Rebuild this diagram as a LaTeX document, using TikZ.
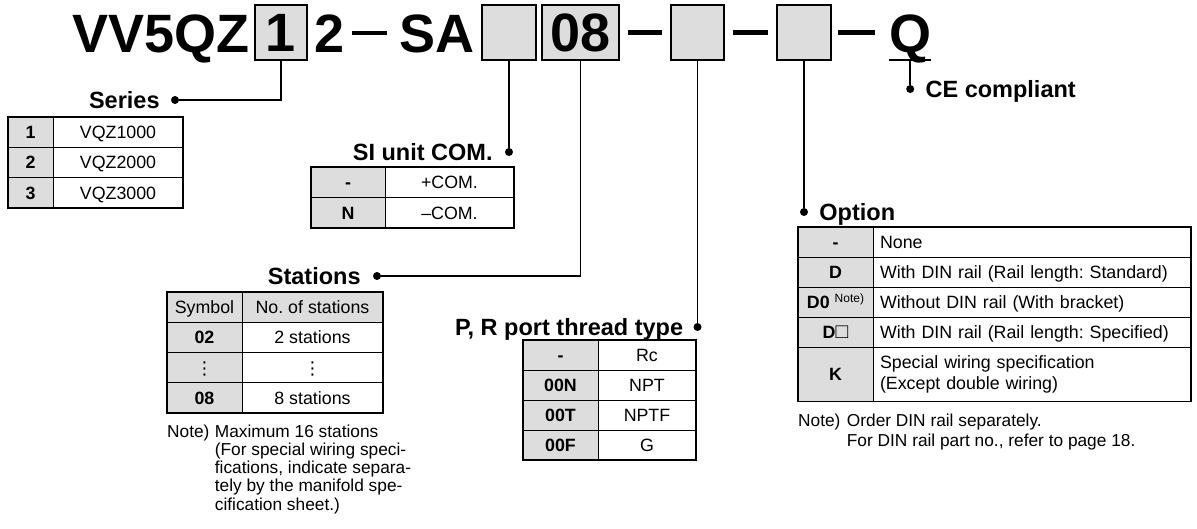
\documentclass[tikz,border=0pt]{standalone}
\usepackage{fontspec}
\setmainfont{Liberation Sans}
\newfontfamily\dejavu{DejaVu Sans}
\usetikzlibrary{positioning}
\definecolor{cGrey}{HTML}{DDDDDD}
\newcommand\codefont{\fontsize{54}{60}\selectfont\bfseries}
\newcommand\ttlfont{\fontsize{23.5}{26}\selectfont\bfseries}
\newcommand\tabfont{\fontsize{17.8}{21}\selectfont}
\newcommand\notefont{\fontsize{17.3}{18.3}\selectfont}
\frenchspacing

\begin{document}
\begin{tikzpicture}[
  x=1pt, y=-1pt,
  code/.style={font=\codefont, inner sep=0pt},
  slot/.style={draw, fill=cGrey, line width=1.5pt, minimum height=55pt,
               inner sep=0pt, font=\codefont},
  dsh/.style={line width=4.5pt, shorten <=8pt, shorten >=8pt},
  ln/.style={line width=1.6pt},
  dot/.style={circle, fill=black, inner sep=0pt, minimum size=8pt},
  ttl/.style={font=\ttlfont, inner sep=0pt},
  cell/.style={draw, line width=1pt, inner sep=0pt, outer sep=0pt, font=\tabfont},
  onel/.style={text height=12.8pt, text depth=0pt},
  keyc/.style={cell, onel, fill=cGrey, font=\tabfont\bfseries},
  hd/.style={cell, onel, fill=cGrey},
  valc/.style={cell, onel, fill=white},
  optv/.style={valc, minimum width=318pt, text width=304pt, inner xsep=7pt, align=left},
  optm/.style={cell, fill=white, minimum width=318pt, text width=304pt, inner xsep=7pt, align=left},
  tabframe/.style={line width=1.5pt},
  note/.style={font=\notefont, inner sep=0pt, align=left}]
\useasboundingbox (0,0) rectangle (1197,528);

% ================= model code =================
\node[code, anchor=base west] (pfx) at (72,52) {VV5QZ};
\node[slot, minimum width=52pt] (slot1) at (281,32.5) {1};
\node[code, anchor=base west] (two) at (314,52) {2};
\node[code, anchor=base west] (sa) at (399,52) {SA};
\node[slot, minimum width=54pt] (slotS) at (509,32.5) {};
\node[slot, minimum width=77pt] (slot08) at (580.5,32.5) {08};
\node[slot, minimum width=53pt] (slot2) at (697.5,32.5) {};
\node[slot, minimum width=54pt] (slot3) at (804,32.5) {};
\node[code, anchor=base west] (q) at (889,52) {Q};

\draw[dsh, shorten >=12pt] (two.east) -- (two.east -| sa.west);
\draw[dsh] (slot08.east) -- (slot2.west);
\draw[dsh] (slot2.east) -- (slot3.west);
\draw[dsh, shorten <=6pt, shorten >=14pt] (slot3.east) -- (slot3.east -| q.west);

% ---- leaders ----
\node[dot] (serdot) at (175,100) {};
\node[dot] (sidot) at (slotS.south |- 0,152) {};
\node[dot] (stadot) at (377,276) {};
\node[dot] (prdot) at (slot2.south |- 0,327) {};
\node[dot] (optdot) at (slot3.south |- 0,212) {};
\node[dot] (cedot) at (q.base |- 0,89) {};

\draw[ln] (slot1.south) |- (serdot);
\draw[ln] (slotS.south) -- (sidot);
\draw[ln] (slot08.south) |- (stadot);
\draw[ln] (slot2.south) -- (prdot);
\draw[ln] (slot3.south) -- (optdot);
\draw[ln] ([yshift=-8pt]q.base west) -- ([yshift=-8pt]q.base east);
\draw[ln] ([yshift=-8pt]q.base) -- (cedot);

% ---- titles ----
\node[ttl, left=11pt of serdot, anchor=base east, yshift=-8.2pt] (sertl) {Series};
\node[ttl, left=12pt of sidot, anchor=base east, yshift=-8.2pt] (situl) {SI unit COM.};
\node[ttl, left=12pt of stadot, anchor=base east, yshift=-8.2pt] (statl) {Stations};
\node[ttl, left=10pt of prdot, anchor=base east, yshift=-8.2pt] (prtl) {P, R port thread type};
\node[ttl, right=11pt of optdot, anchor=base west, yshift=-8.2pt] (opttl) {Option};
\node[ttl, right=11pt of cedot, anchor=base west, yshift=-8.2pt] (cetl) {CE compliant};

% ================= Series =================
\node[keyc, minimum width=45pt, minimum height=30.3pt, anchor=north west] (se1k) at (8,117) {1};
\node[valc, minimum width=130pt, minimum height=30.3pt, right=0pt of se1k] (se1v) {VQZ1000};
\node[keyc, minimum width=45pt, minimum height=30.3pt, below=0pt of se1k] (se2k) {2};
\node[valc, minimum width=130pt, minimum height=30.3pt, right=0pt of se2k] (se2v) {VQZ2000};
\node[keyc, minimum width=45pt, minimum height=30.3pt, below=0pt of se2k] (se3k) {3};
\node[valc, minimum width=130pt, minimum height=30.3pt, right=0pt of se3k] (se3v) {VQZ3000};
\draw[tabframe] (se1k.north west) rectangle (se3v.south east);

% ================= SI unit COM. =================
\node[keyc, minimum width=74pt, minimum height=30.5pt, anchor=north west] (si1k) at (311,167) {-};
\node[valc, minimum width=129pt, minimum height=30.5pt, right=0pt of si1k] (si1v) {+COM.};
\node[keyc, minimum width=74pt, minimum height=30.5pt, below=0pt of si1k] (si2k) {N};
\node[valc, minimum width=129pt, minimum height=30.5pt, right=0pt of si2k] (si2v) {--COM.};
\draw[tabframe] (si1k.north west) rectangle (si2v.south east);

% ================= Stations =================
\node[hd, minimum width=75pt, minimum height=30.25pt, anchor=north west] (st0k) at (167,292) {Symbol};
\node[hd, minimum width=141pt, minimum height=30.25pt, right=0pt of st0k] (st0v) {No. of stations};
\node[keyc, minimum width=75pt, minimum height=30.25pt, below=0pt of st0k] (st1k) {02};
\node[valc, minimum width=141pt, minimum height=30.25pt, right=0pt of st1k] (st1v) {2 stations};
\node[keyc, minimum width=75pt, minimum height=30.25pt, below=0pt of st1k] (st2k) {\dejavu\mdseries ⋮};
\node[valc, minimum width=141pt, minimum height=30.25pt, right=0pt of st2k] (st2v) {\dejavu ⋮};
\node[keyc, minimum width=75pt, minimum height=30.25pt, below=0pt of st2k] (st3k) {08};
\node[valc, minimum width=141pt, minimum height=30.25pt, right=0pt of st3k] (st3v) {8 stations};
\draw[tabframe] (st0k.north west) rectangle (st3v.south east);

\node[note, anchor=base west] (stnote) at (167,437) {Note)};
\node[note, right=5pt of stnote.north east, anchor=north west] (stnotetx)
  {Maximum 16 stations\\(For special wiring speci-\\fications, indicate separa-\\tely by the manifold spe-\\cification sheet.)};

% ================= P, R port thread type =================
\node[keyc, minimum width=75pt, minimum height=30pt, anchor=north west] (pr1k) at (523,340) {-};
\node[valc, minimum width=98pt, minimum height=30pt, right=0pt of pr1k] (pr1v) {Rc};
\node[keyc, minimum width=75pt, minimum height=30pt, below=0pt of pr1k] (pr2k) {00N};
\node[valc, minimum width=98pt, minimum height=30pt, right=0pt of pr2k] (pr2v) {NPT};
\node[keyc, minimum width=75pt, minimum height=30pt, below=0pt of pr2k] (pr3k) {00T};
\node[valc, minimum width=98pt, minimum height=30pt, right=0pt of pr3k] (pr3v) {NPTF};
\node[keyc, minimum width=75pt, minimum height=30pt, below=0pt of pr3k] (pr4k) {00F};
\node[valc, minimum width=98pt, minimum height=30pt, right=0pt of pr4k] (pr4v) {G};
\draw[tabframe] (pr1k.north west) rectangle (pr4v.south east);

% ================= Option =================
\node[keyc, minimum width=75pt, minimum height=30pt, anchor=north west] (op1k) at (798,227) {-};
\node[optv, minimum height=30pt, right=0pt of op1k] (op1v) {None};
\node[keyc, minimum width=75pt, minimum height=30.5pt, below=0pt of op1k] (op2k) {D};
\node[optv, minimum height=30.5pt, right=0pt of op2k] (op2v) {With DIN rail (Rail length: Standard)};
\node[keyc, minimum width=75pt, minimum height=30pt, below=0pt of op2k] (op3k)
  {D0\hspace{5pt}{\fontsize{12}{12}\selectfont\mdseries\raisebox{6pt}{Note)}}};
\node[optv, minimum height=30pt, right=0pt of op3k] (op3v) {Without DIN rail (With bracket)};
\node[keyc, minimum width=75pt, minimum height=30pt, below=0pt of op3k] (op4k)
  {D{\mdseries\fontsize{21}{21}\selectfont □}};
\node[optv, minimum height=30pt, right=0pt of op4k] (op4v) {With DIN rail (Rail length: Specified)};
\node[keyc, minimum width=75pt, minimum height=54pt, below=0pt of op4k] (op5k) {K};
\node[optm, minimum height=54pt, right=0pt of op5k] (op5v) {Special wiring specification\\(Except double wiring)};
\draw[tabframe] (op1k.north west) rectangle (op5v.south east);

\node[note, anchor=base west] (opnote) at (798,426) {Note)};
\node[note, font=\fontsize{17.3}{20}\selectfont, right=6pt of opnote.north east, anchor=north west] (opnotetx)
  {Order DIN rail separately.\\For DIN rail part no., refer to page 18.};
\end{tikzpicture}
\end{document}
